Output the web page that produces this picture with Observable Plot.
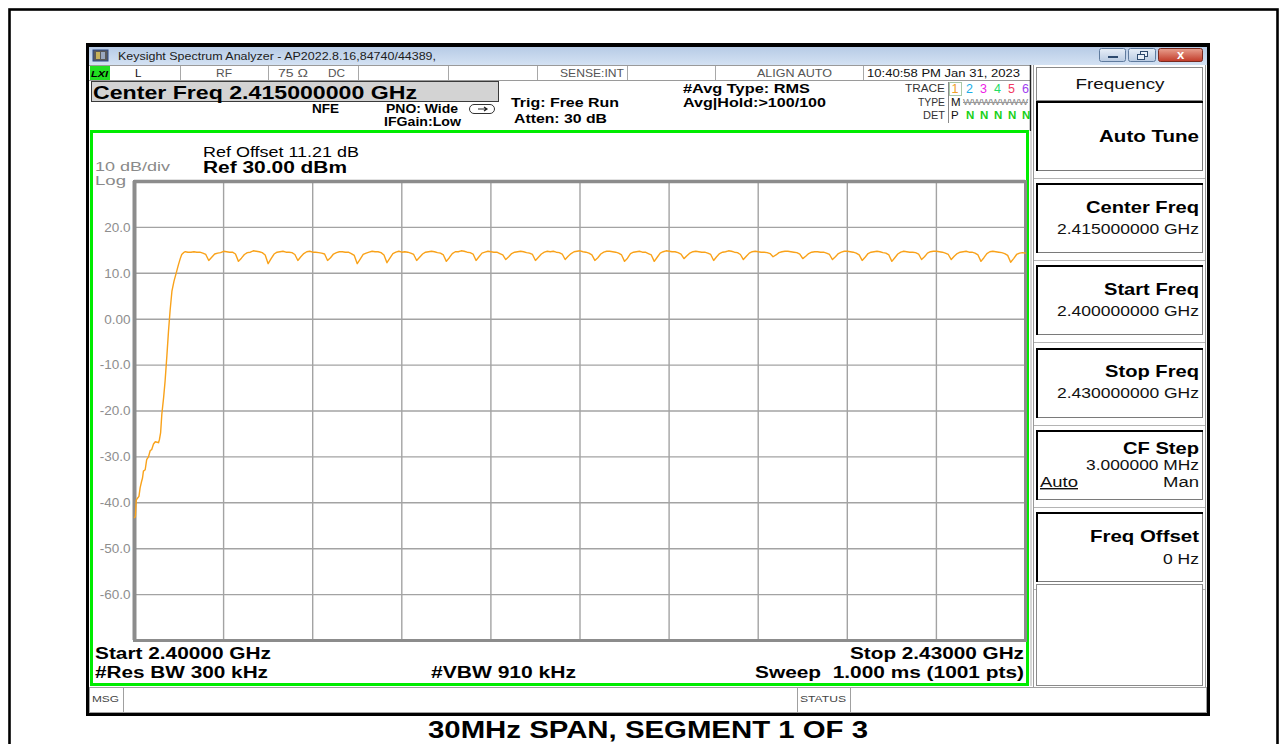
<!DOCTYPE html>
<html>
<head>
<meta charset="utf-8">
<script src="https://cdn.jsdelivr.net/npm/d3@7"></script>
<script src="https://cdn.jsdelivr.net/npm/@observablehq/plot@0.6"></script>
<style>
  html, body { margin: 0; padding: 0; background: #fff; }
  #wrap { position: relative; width: 1285px; height: 744px; overflow: hidden; }
  #chrome { position: absolute; left: 0; top: 0; }
  #plot { position: absolute; left: 92px; top: 133px; }
  text { white-space: pre; }
</style>
</head>
<body>
<div id="wrap">
  <svg id="chrome" width="1285" height="744"></svg>
  <div id="plot"></div>
</div>
<script>
// ---------------- DATA ----------------
const startGHz = 2.400;   // Start 2.40000 GHz
const stopGHz = 2.430;    // Stop 2.43000 GHz
const refDbm = 30;        // Ref 30.00 dBm, 10 dB/div
const bottomDbm = -70;

// rising edge of the trace: offset from start (MHz) and level (dBm)
const riseMHz = [0.00, 0.03, 0.06, 0.10, 0.15, 0.19, 0.24, 0.27, 0.30, 0.36, 0.41, 0.47, 0.53, 0.58, 0.64, 0.70, 0.76, 0.81, 0.84, 0.88, 0.92, 0.98, 1.03, 1.09, 1.145, 1.20, 1.26, 1.33, 1.39, 1.48, 1.54, 1.59, 1.65, 1.71];
const riseDbm = [-43.2, -43.0, -39.4, -39.0, -38.6, -36.7, -35.3, -34.6, -33.1, -32.8, -30.6, -30.0, -28.6, -28.4, -27.2, -26.7, -26.8, -26.9, -26.2, -24.7, -20.7, -17.1, -13.5, -8.0, -2.6, 2.0, 6.1, 8.3, 9.7, 11.9, 13.2, 14.1, 14.5, 14.7];

// flat part of the trace: one row per MHz, 10 readings at n.0 ... n.9 MHz
const flatStartMHz = [1.8, 1.9];
const flatStartDbm = [14.6, 14.6];
const flatRowMHz = [2, 3, 4, 5, 6, 7, 8, 9, 10, 11, 12, 13, 14, 15, 16, 17, 18, 19, 20, 21, 22, 23, 24, 25, 26, 27, 28, 29];
const flatRowDbm = [
  [14.7,14.6,14.6,14.4,14.1,12.8,13.5,14.2,14.4,14.5],
  [14.8,14.7,14.6,14.6,14.2,12.6,13.3,14.1,14.5,14.6],
  [14.9,14.8,14.7,14.5,14.0,12.1,13.2,14.2,14.6,14.7],
  [14.8,14.6,14.6,14.5,14.1,12.8,13.6,14.3,14.7,14.8],
  [14.6,14.6,14.5,14.4,14.2,12.8,13.4,14.2,14.5,14.7],
  [14.7,14.6,14.6,14.3,13.9,12.1,13.1,14.1,14.4,14.6],
  [14.8,14.7,14.7,14.5,14.0,12.3,13.3,14.3,14.6,14.8],
  [14.6,14.7,14.6,14.4,14.1,12.8,13.5,14.2,14.6,14.7],
  [14.8,14.7,14.5,14.4,14.0,12.6,13.4,14.3,14.7,14.7],
  [14.9,14.8,14.6,14.5,14.2,12.8,13.6,14.4,14.6,14.8],
  [14.7,14.6,14.6,14.3,14.0,13.0,13.6,14.3,14.6,14.7],
  [14.8,14.7,14.5,14.4,14.1,12.8,13.5,14.2,14.6,14.8],
  [14.7,14.8,14.6,14.5,14.2,13.0,13.7,14.3,14.7,14.8],
  [14.9,14.7,14.6,14.4,14.0,12.8,13.4,14.2,14.6,14.8],
  [14.8,14.7,14.6,14.4,14.0,12.6,13.3,14.3,14.6,14.7],
  [14.8,14.6,14.6,14.3,14.0,12.6,13.5,14.4,14.7,14.9],
  [14.8,14.7,14.7,14.5,14.2,13.2,13.8,14.4,14.7,14.8],
  [14.7,14.6,14.6,14.4,14.1,12.8,13.6,14.3,14.6,14.7],
  [14.9,14.8,14.6,14.5,14.1,13.0,13.7,14.4,14.7,14.8],
  [14.7,14.6,14.6,14.5,14.3,13.6,14.0,14.5,14.7,14.8],
  [14.8,14.7,14.6,14.5,14.2,13.2,13.7,14.3,14.6,14.7],
  [14.7,14.6,14.6,14.4,14.1,13.0,13.6,14.3,14.6,14.8],
  [14.8,14.7,14.6,14.4,14.0,12.8,13.5,14.3,14.6,14.7],
  [14.8,14.7,14.5,14.4,14.0,12.6,13.4,14.2,14.6,14.8],
  [14.7,14.6,14.6,14.5,14.2,13.0,13.6,14.4,14.7,14.8],
  [14.8,14.7,14.6,14.4,14.1,13.0,13.7,14.3,14.6,14.7],
  [14.8,14.6,14.6,14.4,14.0,12.6,13.4,14.3,14.7,14.8],
  [14.7,14.6,14.5,14.3,13.9,12.4,13.2,14.1,14.4,14.5]
];
const flatEndMHz = [30.0];
const flatEndDbm = [14.4];

// axis ticks
const xGridMHz = [0, 3, 6, 9, 12, 15, 18, 21, 24, 27, 30];
const yTicks = [20, 10, 0, -10, -20, -30, -40, -50, -60];
const yTickLabels = ["20.0", "10.0", "0.00", "-10.0", "-20.0", "-30.0", "-40.0", "-50.0", "-60.0"];
const yGrid = [20, 10, 0, -10, -20, -30, -40, -50, -60];

// ---------------- build the trace table ----------------
const startMHz = startGHz * 1000;
const trace = [];
riseMHz.forEach((f, i) => trace.push({ f: startMHz + f, v: riseDbm[i] }));
flatStartMHz.forEach((f, i) => trace.push({ f: startMHz + f, v: flatStartDbm[i] }));
flatRowMHz.forEach((n, r) => flatRowDbm[r].forEach((v, k) => trace.push({ f: startMHz + n + k / 10, v })));
flatEndMHz.forEach((f, i) => trace.push({ f: startMHz + f, v: flatEndDbm[i] }));

// ---------------- the chart (Observable Plot) ----------------
const FONT = "'Liberation Sans', Arial, Helvetica, sans-serif";
const chart = Plot.plot({
  width: 936,
  height: 551,
  marginLeft: 42,
  marginRight: 3,
  marginTop: 48,
  marginBottom: 44,
  style: { background: "transparent", fontFamily: FONT, overflow: "visible" },
  x: { domain: [startMHz, stopGHz * 1000], axis: null },
  y: { domain: [bottomDbm, refDbm], axis: null },
  marks: [
    Plot.ruleX(xGridMHz.map(d => startMHz + d), { stroke: "#a3a3a3", strokeWidth: 1.4 }),
    Plot.ruleY(yGrid, { stroke: "#a3a3a3", strokeWidth: 1.4 }),
    Plot.frame({ stroke: "#8c8c8c", strokeWidth: 3 }),
    Plot.ruleX([startMHz], { stroke: "#8c8c8c", strokeWidth: 4 }),
    Plot.ruleY([refDbm], { stroke: "#8c8c8c", strokeWidth: 3.5 }),
    Plot.axisY(yTicks, {
      anchor: "left", tickSize: 0, tickPadding: 4, label: null,
      tickFormat: d => yTickLabels[yTicks.indexOf(d)],
      fill: "#8e8e8e", fontSize: 13.5
    }),
    Plot.line(trace, { x: "f", y: "v", stroke: "#f9a21a", strokeWidth: 1.4 })
  ]
});
document.getElementById("plot").appendChild(chart);

// ---------------- instrument chrome around the chart ----------------
const svg = d3.select("#chrome");
const defs = svg.append("defs");
const g1 = defs.append("linearGradient").attr("id", "tbar").attr("x1", 0).attr("y1", 0).attr("x2", 0).attr("y2", 1);
g1.append("stop").attr("offset", "0").attr("stop-color", "#b7cbe6");
g1.append("stop").attr("offset", "1").attr("stop-color", "#d4e2f3");
const g2 = defs.append("linearGradient").attr("id", "btn").attr("x1", 0).attr("y1", 0).attr("x2", 0).attr("y2", 1);
g2.append("stop").attr("offset", "0").attr("stop-color", "#e8eff8");
g2.append("stop").attr("offset", "1").attr("stop-color", "#b9cbe2");
const g3 = defs.append("linearGradient").attr("id", "cls").attr("x1", 0).attr("y1", 0).attr("x2", 0).attr("y2", 1);
g3.append("stop").attr("offset", "0").attr("stop-color", "#e9a08f");
g3.append("stop").attr("offset", "1").attr("stop-color", "#c13a28");

function rect(x, y, w, h, o = {}) {
  return svg.append("rect").attr("x", x).attr("y", y).attr("width", w).attr("height", h)
    .attr("fill", o.fill || "none").attr("stroke", o.stroke || "none")
    .attr("stroke-width", o.sw || 1).attr("rx", o.rx || 0);
}
function line(x1, y1, x2, y2, stroke, sw = 1) {
  svg.append("line").attr("x1", x1).attr("y1", y1).attr("x2", x2).attr("y2", y2)
    .attr("stroke", stroke).attr("stroke-width", sw);
}
function txt(s, x, y, o = {}) {
  const t = svg.append("text").attr("x", x).attr("y", y).text(s)
    .attr("font-family", o.family || FONT)
    .attr("font-size", o.size || 12)
    .attr("font-weight", o.weight || "normal")
    .attr("font-style", o.style || "normal")
    .attr("fill", o.fill || "#000")
    .attr("text-anchor", o.anchor || "start");
  if (o.w) t.attr("textLength", o.w).attr("lengthAdjust", "spacingAndGlyphs");
  if (o.deco) t.attr("text-decoration", o.deco);
  return t;
}

// page frame
rect(9.5, 9.5, 1268, 800, { stroke: "#000", sw: 2.6 });

// window
rect(86, 43, 1124, 673, { fill: "#000" });
rect(89, 47, 1118, 666, { fill: "#fff" });
rect(89, 47, 1118, 18, { fill: "url(#tbar)" });
// icon
rect(93, 50, 15, 11, { fill: "#5a5a5a", stroke: "#2c4a8a", sw: 1 });
rect(96, 52, 4, 7, { fill: "#c8b25a" });
rect(101, 52, 4, 7, { fill: "#9aa8c0" });
txt("Keysight Spectrum Analyzer - AP2022.8.16,84740/44389,", 118, 60, { size: 11.5, fill: "#1c1c1c", w: 318 });
// window buttons
rect(1099.5, 48.5, 26, 13, { fill: "url(#btn)", stroke: "#5f7b9e", rx: 2 });
rect(1108, 56, 10, 2, { fill: "#2d4a6e" });
rect(1128.5, 48.5, 27, 13, { fill: "url(#btn)", stroke: "#5f7b9e", rx: 2 });
rect(1140.5, 51.5, 7, 5, { stroke: "#2d4a6e", fill: "#e8eff8" });
rect(1137.5, 54.5, 7, 5, { stroke: "#2d4a6e", fill: "#e8eff8" });
rect(1158.5, 48.5, 44, 13, { fill: "url(#cls)", stroke: "#7a2a20", rx: 2 });
txt("x", 1180.5, 59, { size: 13, weight: "bold", fill: "#fff", anchor: "middle" });

// status row
line(89, 65.5, 1030, 65.5, "#9a9a9a");
line(89, 80.5, 1030, 80.5, "#9a9a9a");
rect(90, 66, 20, 14, { fill: "#22e022" });
txt("LXI", 91, 77, { size: 9.5, weight: "bold", style: "italic", w: 17 });
[180, 268, 358, 448, 537, 627, 715, 863].forEach(x => line(x + 0.5, 66, x + 0.5, 80, "#a8a8a8"));
txt("L", 135, 77, { size: 11.5, fill: "#111" });
txt("RF", 216, 77, { size: 11, fill: "#555", w: 16 });
txt("75 Ω", 278, 77, { size: 11, fill: "#555", w: 30 });
txt("DC", 328, 77, { size: 11, fill: "#555", w: 17 });
txt("SENSE:INT", 560, 77, { size: 11, fill: "#555", w: 64 });
txt("ALIGN AUTO", 757, 77, { size: 11, fill: "#555", w: 75 });
txt("10:40:58 PM Jan 31, 2023", 867, 77, { size: 11.5, fill: "#111", w: 153 });
line(1030.5, 65, 1030.5, 131, "#222", 1.5);

// header settings
rect(91.5, 81.5, 407, 20, { fill: "#d3d3d3", stroke: "#3a3a3a" });
txt("Center Freq 2.415000000 GHz", 93, 99, { size: 19, weight: "bold", w: 324 });
txt("NFE", 312, 113, { size: 12, weight: "bold", w: 27 });
txt("PNO: Wide", 386, 113, { size: 12, weight: "bold", w: 72 });
rect(469.5, 104.5, 25, 9, { fill: "#fff", stroke: "#333", rx: 4.5 });
svg.append("path").attr("d", "M478,109 L486,109 M484,107 L487,109 L484,111").attr("stroke", "#222").attr("fill", "none").attr("stroke-width", 1.2);
txt("IFGain:Low", 384, 126, { size: 12, weight: "bold", w: 77 });
txt("Trig: Free Run", 511, 107, { size: 13, weight: "bold", w: 108 });
txt("Atten: 30 dB", 514, 123, { size: 13, weight: "bold", w: 93 });
txt("#Avg Type: RMS", 683, 93, { size: 13, weight: "bold", w: 127 });
txt("Avg|Hold:>100/100", 683, 107, { size: 13, weight: "bold", w: 143 });

// trace table
txt("TRACE", 945, 92, { size: 10, fill: "#333", anchor: "end", w: 40 });
txt("TYPE", 945, 106, { size: 10, fill: "#333", anchor: "end", w: 27 });
txt("DET", 945, 119, { size: 10, fill: "#333", anchor: "end", w: 22 });
line(948.5, 82, 948.5, 123, "#8a8a8a");
rect(949.5, 82.5, 12, 13, { stroke: "#a8c8a8" });
const traceNums = ["1", "2", "3", "4", "5", "6"];
const traceCols = ["#f0a028", "#1aaee8", "#ee22e6", "#22dd66", "#f23a62", "#a040f0"];
const traceX = [951.5, 966, 980, 994, 1008, 1022];
traceNums.forEach((s, i) => txt(s, traceX[i], 93, { size: 12.5, fill: traceCols[i] }));
txt("M", 951, 106, { size: 11.5, fill: "#111" });
txt("WWWWWWW", 963, 105, { size: 8.5, fill: "#8a8a8a", w: 65 });
line(963, 102.5, 1028, 102.5, "#9a9a9a");
txt("P", 951, 119, { size: 11.5, fill: "#111" });
traceX.slice(1).forEach(x => txt("N", x, 119, { size: 11.5, weight: "bold", fill: "#18d018" }));

// green measurement frame
rect(91.5, 131.5, 936, 553, { stroke: "#00ec00", sw: 3 });
line(1031, 131, 1031, 686, "#b0b0b0", 1);

// annotation inside the display
txt("Ref Offset 11.21 dB", 203, 157, { size: 14, fill: "#000", w: 156 });
txt("Ref 30.00 dBm", 203, 173, { size: 16, weight: "bold", w: 144 });
txt("10 dB/div", 95, 171, { size: 13, fill: "#8a8a8a", w: 75 });
txt("Log", 95, 185, { size: 13, fill: "#8a8a8a", w: 31 });
txt("Start 2.40000 GHz", 95, 659, { size: 16, weight: "bold", w: 176 });
txt("#Res BW 300 kHz", 95, 678, { size: 16, weight: "bold", w: 173 });
txt("#VBW 910 kHz", 431, 678, { size: 16, weight: "bold", w: 145 });
txt("Stop 2.43000 GHz", 1024, 659, { size: 16, weight: "bold", anchor: "end", w: 174 });
txt("Sweep  1.000 ms (1001 pts)", 1024, 678, { size: 16, weight: "bold", anchor: "end", w: 269 });

// message bar
rect(89.5, 687.5, 1117, 25, { fill: "#fff", stroke: "#a0a0a0" });
txt("MSG", 92, 702, { size: 9.5, fill: "#444", w: 27 });
line(123.5, 688, 123.5, 712, "#a0a0a0");
line(797.5, 688, 797.5, 712, "#a0a0a0");
line(850.5, 688, 850.5, 712, "#a0a0a0");
txt("STATUS", 800, 702, { size: 9.5, fill: "#444", w: 46 });

// soft key panel
line(1033.5, 65, 1033.5, 687, "#9a9a9a");
line(1205.5, 65, 1205.5, 687, "#9a9a9a");
rect(1036.5, 67.5, 166, 33, { fill: "#fff", stroke: "#8a8a8a" });
txt("Frequency", 1120, 89, { size: 14.5, fill: "#111", anchor: "middle", w: 89 });
const keyTop = [101, 183, 265, 348, 430, 512];
keyTop.forEach(y => {
  rect(1036.5, y + 0.5, 166, 69, { fill: "#fff", stroke: "#7a7a7a" });
  line(1036, y + 1, 1203, y + 1, "#000", 2);
  line(1037, y, 1037, y + 70, "#000", 2);
  line(1034, y + 77.5, 1205, y + 77.5, "#b4b4b4");
});
rect(1036.5, 584.5, 166, 101, { fill: "#fff", stroke: "#8a8a8a" });
const KB = { size: 16.5, weight: "bold", anchor: "end" };
const KV = { size: 14, anchor: "end", fill: "#111" };
txt("Auto Tune", 1199, 142, { ...KB, w: 100 });
txt("Center Freq", 1199, 213, { ...KB, w: 113 });
txt("2.415000000 GHz", 1199, 234, { ...KV, w: 142 });
txt("Start Freq", 1199, 295, { ...KB, w: 95 });
txt("2.400000000 GHz", 1199, 316, { ...KV, w: 142 });
txt("Stop Freq", 1199, 377, { ...KB, w: 94 });
txt("2.430000000 GHz", 1199, 398, { ...KV, w: 142 });
txt("CF Step", 1199, 454, { ...KB, w: 76 });
txt("3.000000 MHz", 1199, 470, { ...KV, w: 113 });
txt("Auto", 1040, 487, { size: 14, fill: "#111", w: 38, deco: "underline" });
txt("Man", 1199, 487, { ...KV, w: 36 });
txt("Freq Offset", 1199, 542, { ...KB, w: 109 });
txt("0 Hz", 1199, 564, { ...KV, w: 36 });

// caption below the screenshot
txt("30MHz SPAN, SEGMENT 1 OF 3", 648, 738, {
  size: 24, weight: "bold", anchor: "middle", w: 440,
  family: "'Liberation Sans Narrow', 'Liberation Sans', Arial, sans-serif"
});
</script>
</body>
</html>
